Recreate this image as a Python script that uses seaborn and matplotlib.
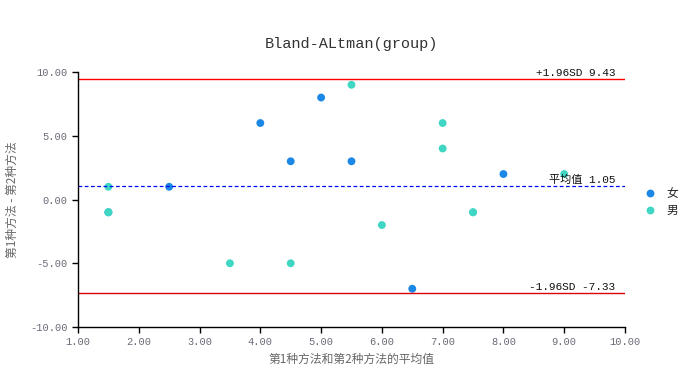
import numpy as np
import pandas as pd
import seaborn as sns
import matplotlib.pyplot as plt
import matplotlib.transforms as mtransforms

# 女 / 男 それぞれの (平均値, 差)
female_mean = [1.5, 2.5, 4.0, 4.5, 5.0, 5.5, 6.5, 8.0]
female_diff = [-1, 1, 6, 3, 8, 3, -7, 2]
male_mean = [1.5, 1.5, 1.5, 3.5, 4.5, 5.5, 6.0, 7.0, 7.0, 7.5, 7.5, 9.0]
male_diff = [1, -1, -1, -5, -5, 9, -2, 6, 4, -1, -1, 2]
groups = ["女", "男"]
colors = ["#1C88E6", "#3FD6C4"]
x_ticks = [1, 2, 3, 4, 5, 6, 7, 8, 9, 10]
y_ticks = [-10, -5, 0, 5, 10]

df = pd.DataFrame({
    "avg": female_mean + male_mean,
    "diff": female_diff + male_diff,
    "group": ["女"] * len(female_mean) + ["男"] * len(male_mean),
})

md = df["diff"].mean()
sd = df["diff"].std()
upper = md + 1.96 * sd
lower = md - 1.96 * sd

sns.set_style("white")
plt.rcParams["font.family"] = ["Liberation Mono", "Noto Sans CJK SC", "DejaVu Sans"]
plt.rcParams["axes.unicode_minus"] = False

fig = plt.figure(figsize=(6.89, 3.90), dpi=100)
ax = fig.add_axes([0.1132, 0.1615, 0.7939, 0.6538])

sns.scatterplot(data=df, x="avg", y="diff", hue="group", hue_order=groups,
                palette=colors, s=32, linewidth=0, ax=ax)

ax.axhline(upper, color="#FF0000", lw=1)
ax.axhline(lower, color="#E00000", lw=1)
ax.axhline(md, color="#0000FF", lw=0.9, ls=(0, (3, 2)))

tr = mtransforms.blended_transform_factory(ax.transAxes, ax.transData)
kw = dict(transform=tr, ha="right", va="bottom", fontsize=8, color="#111111")
ax.text(0.982, upper + 0.1, f"+1.96SD {upper:.2f}", **kw)
ax.text(0.982, md + 0.1, f"平均值 {md:.2f}", **kw)
ax.text(0.982, lower + 0.1, f"-1.96SD {lower:.2f}", **kw)

ax.set_xlim(1, 10)
ax.set_ylim(-10, 10)
ax.set_xticks(x_ticks)
ax.set_yticks(y_ticks)
ax.set_xticklabels([f"{v:.2f}" for v in x_ticks])
ax.set_yticklabels([f"{v:.2f}" for v in y_ticks])
ax.tick_params(axis="both", labelsize=7.5, colors="#000000", labelcolor="#6b6b78",
               direction="out", length=4, width=1, bottom=True, left=True)
for s in ["top", "right"]:
    ax.spines[s].set_visible(False)
for s in ["left", "bottom"]:
    ax.spines[s].set_color("black")
    ax.spines[s].set_linewidth(1)

ax.set_xlabel("第1种方法和第2种方法的平均值", fontsize=8.5, color="#666666",
              family=["Noto Sans CJK SC"], labelpad=4)
ax.set_ylabel("第1种方法 - 第2种方法", fontsize=8.5, color="#666666",
              family=["Noto Sans CJK SC"], labelpad=8)
ax.set_title("Bland-ALtman(group)", fontsize=11, color="#333333", pad=17)

sns.move_legend(ax, "center left", bbox_to_anchor=(1.005, 0.49), frameon=False,
                title=None, fontsize=8.5, handletextpad=0.4, labelspacing=0.3)
for t in ax.get_legend().get_texts():
    t.set_family(["Noto Sans CJK SC"])

fig.savefig("out.png", dpi=100)
